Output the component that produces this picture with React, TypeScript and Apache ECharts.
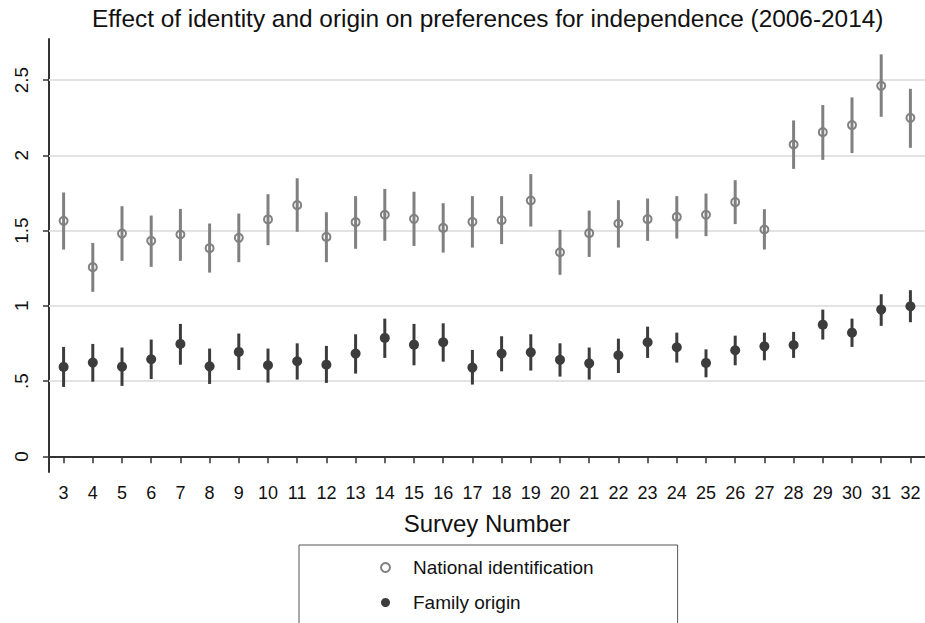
import React, { useEffect, useRef } from "react";
import * as echarts from "echarts";

const surveys = ["3","4","5","6","7","8","9","10","11","12","13","14","15","16","17","18","19","20","21","22","23","24","25","26","27","28","29","30","31","32"];

const national = [1.565,1.257,1.480,1.432,1.474,1.383,1.452,1.574,1.669,1.458,1.556,1.605,1.578,1.518,1.558,1.569,1.700,1.356,1.483,1.547,1.576,1.591,1.605,1.689,1.507,2.072,2.154,2.201,2.462,2.249];
const nationalLow = [1.374,1.093,1.299,1.259,1.299,1.221,1.290,1.403,1.492,1.290,1.379,1.432,1.398,1.354,1.387,1.410,1.527,1.206,1.325,1.387,1.432,1.447,1.463,1.543,1.374,1.910,1.970,2.015,2.256,2.050];
const nationalHigh = [1.753,1.418,1.662,1.600,1.644,1.547,1.613,1.742,1.848,1.622,1.729,1.777,1.758,1.682,1.729,1.729,1.875,1.505,1.633,1.702,1.713,1.729,1.746,1.835,1.642,2.232,2.334,2.385,2.671,2.442];

const family = [0.594,0.623,0.596,0.645,0.747,0.598,0.694,0.605,0.632,0.609,0.683,0.787,0.742,0.758,0.590,0.683,0.691,0.641,0.618,0.672,0.758,0.725,0.621,0.705,0.731,0.740,0.875,0.822,0.975,0.997];
const familyLow = [0.461,0.496,0.468,0.514,0.609,0.481,0.574,0.490,0.510,0.488,0.550,0.654,0.605,0.629,0.477,0.565,0.570,0.530,0.510,0.554,0.654,0.623,0.525,0.605,0.638,0.654,0.776,0.727,0.867,0.891];
const familyHigh = [0.727,0.747,0.723,0.776,0.880,0.716,0.816,0.716,0.751,0.734,0.811,0.915,0.880,0.884,0.707,0.798,0.811,0.751,0.723,0.782,0.862,0.822,0.711,0.802,0.822,0.827,0.975,0.915,1.077,1.104];

const yTicks = [0, 0.5, 1, 1.5, 2, 2.5];
const yGridValues = [0.5, 1, 1.5, 2, 2.5];

const titleText = "Effect of identity and origin on preferences for independence (2006-2014)";
const xAxisTitle = "Survey Number";
const nationalName = "National identification";
const familyName = "Family origin";

const NAT_COLOR = "#808080";
const FAM_COLOR = "#3c3c3c";
const FONT = "'Liberation Sans', Arial, sans-serif";

function errorBarRender(color: string) {
  return (params: any, api: any) => {
    const x = api.value(0);
    const lo = api.coord([x, api.value(1)]);
    const hi = api.coord([x, api.value(2)]);
    return {
      type: "line",
      shape: { x1: lo[0], y1: lo[1], x2: hi[0], y2: hi[1] },
      style: { stroke: color, lineWidth: 3, lineCap: "butt" },
    };
  };
}

export default function App() {
  const ref = useRef<HTMLDivElement>(null);

  useEffect(() => {
    if (!ref.current) return;
    const chart = echarts.init(ref.current, null, { renderer: "svg" });
    const option: any = {
      animation: false,
      backgroundColor: "#ffffff",
      textStyle: { fontFamily: FONT },
      title: {
        text: titleText,
        left: 92,
        top: 6,
        padding: 0,
        textStyle: { fontFamily: FONT, fontSize: 24.4, fontWeight: "normal", color: "#111" },
      },
      grid: { left: 49, right: -2, top: 39, bottom: 151 },
      legend: {
        orient: "vertical",
        left: 299,
        top: 545,
        height: 120,
        padding: [13, 84, 40, 81],
        itemGap: 16,
        itemWidth: 9,
        itemHeight: 9,
        borderColor: "#555",
        borderWidth: 1,
        textStyle: { fontFamily: FONT, fontSize: 19, color: "#111", lineHeight: 19, padding: [0, 0, 0, 18] },
        data: [
          { name: nationalName, icon: "circle", itemStyle: { color: "#fff", borderColor: NAT_COLOR, borderWidth: 2 } },
          { name: familyName, icon: "circle", itemStyle: { color: FAM_COLOR } },
        ],
      },
      xAxis: {
        type: "category",
        data: surveys,
        boundaryGap: true,
        name: xAxisTitle,
        nameLocation: "middle",
        nameGap: 39,
        nameTextStyle: { fontFamily: FONT, fontSize: 24, color: "#111" },
        axisLine: { show: true, lineStyle: { color: "#333", width: 2 } },
        axisTick: { show: true, alignWithLabel: true, length: 7, lineStyle: { color: "#333", width: 1.5 } },
        axisLabel: { fontFamily: FONT, fontSize: 18, color: "#111", margin: 12, interval: 0 },
        splitLine: { show: false },
      },
      yAxis: {
        type: "value",
        min: -0.104,
        max: 2.773,
        axisLine: { show: true, lineStyle: { color: "#333", width: 2 } },
        axisTick: { show: true, length: 6, customValues: yTicks, lineStyle: { color: "#333", width: 1.5 } },
        axisLabel: {
          customValues: yTicks,
          rotate: 90,
          margin: 18,
          fontFamily: FONT,
          fontSize: 19,
          color: "#111",
          formatter: (v: number) => String(v).replace(/^0\./, "."),
        },
        splitLine: { show: false },
      },
      series: [
        {
          name: "grid",
          type: "line",
          data: [],
          z: 1,
          silent: true,
          markLine: {
            silent: true,
            z: 1,
            symbol: "none",
            label: { show: false },
            emphasis: { disabled: true },
            lineStyle: { color: "#e3e3e3", width: 2, type: "solid" },
            data: yGridValues.map((v) => ({ yAxis: v })),
          },
        },
        {
          name: "natErr",
          type: "custom",
          z: 2,
          silent: true,
          renderItem: errorBarRender(NAT_COLOR),
          encode: { x: 0, y: [1, 2] },
          data: surveys.map((_, i) => [i, nationalLow[i], nationalHigh[i]]),
        },
        {
          name: "famErr",
          type: "custom",
          z: 2,
          silent: true,
          renderItem: errorBarRender(FAM_COLOR),
          encode: { x: 0, y: [1, 2] },
          data: surveys.map((_, i) => [i, familyLow[i], familyHigh[i]]),
        },
        {
          name: nationalName,
          type: "scatter",
          z: 3,
          symbol: "circle",
          symbolSize: 8,
          itemStyle: { color: "rgba(255,255,255,0)", borderColor: NAT_COLOR, borderWidth: 2, opacity: 1 },
          data: national,
        },
        {
          name: familyName,
          type: "scatter",
          z: 3,
          symbol: "circle",
          symbolSize: 10,
          itemStyle: { color: FAM_COLOR, opacity: 1 },
          data: family,
        },
      ],
    };
    chart.setOption(option);
    return () => chart.dispose();
  }, []);

  return (
    <div
      ref={ref}
      style={{ position: "absolute", left: 0, top: 0, width: 925, height: 623, background: "#fff" }}
    />
  );
}
